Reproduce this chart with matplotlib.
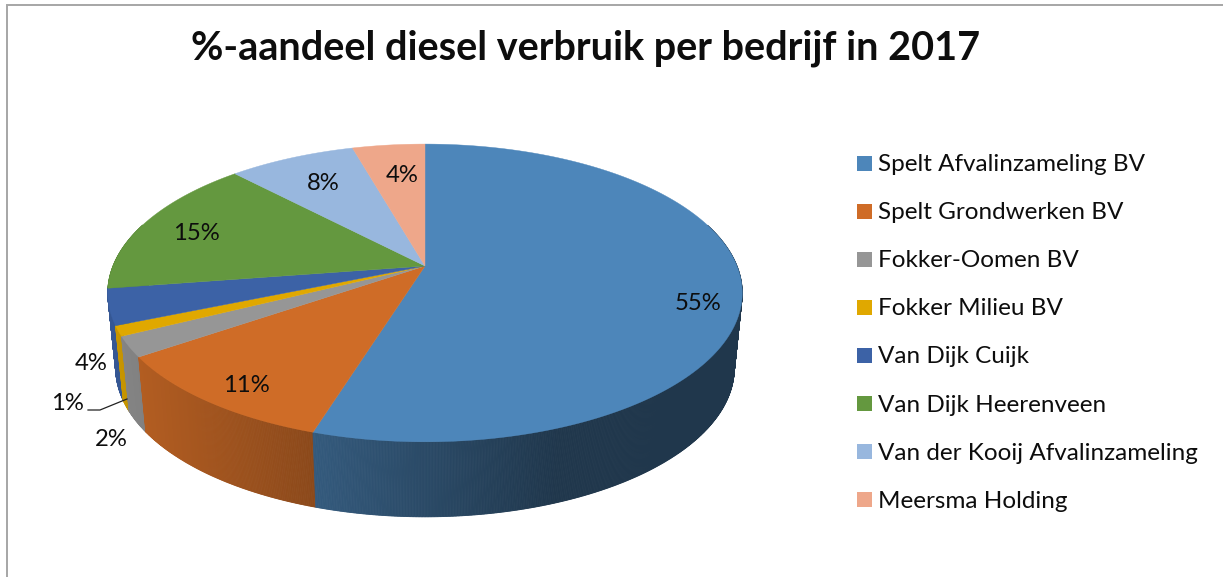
import numpy as np
import matplotlib
matplotlib.use("Agg")
import matplotlib.pyplot as plt
from matplotlib.patches import Polygon, Rectangle

title = "%-aandeel diesel verbruik per bedrijf in 2017"
companies = ["Spelt Afvalinzameling BV", "Spelt Grondwerken BV", "Fokker-Oomen BV", "Fokker Milieu BV",
             "Van Dijk Cuijk", "Van Dijk Heerenveen", "Van der Kooij Afvalinzameling", "Meersma Holding"]
shares = [54.8, 10.6, 2.2, 1.1, 3.9, 15.3, 7.7, 4.4]
colors = ["#4d86ba", "#cf6c27", "#969696", "#e0a800", "#3c62a6", "#64983f", "#98b7de", "#eea78a"]

# layout (pixels)
CX, CY, A, B, K = 425.0, 266.0, 312.0, 144.0, 0.181
DEPTH, SHRINK = 75.0, 0.975
label_pos = [(698, 304), (246, 386), (111, 440), (67, 403), (91, 363), (196, 233), (323, 183), (402, 175)]
FONT = "Lato"

def project(t):
    u, v = np.sin(t), np.cos(t)
    w = 1 + K * v
    return CX + A * u / w, CY - B * v / w

def shade(x):
    return np.clip(0.86 - (x - 140) * 0.00108, 0.41, 0.9)

fig = plt.figure(figsize=(12.23, 5.77), dpi=100)
ax = fig.add_axes([0, 0, 1, 1])
ax.set_xlim(0, 1223)
ax.set_ylim(577, 0)
ax.axis("off")

ax.plot([6.5, 6.5, 1223], [577, 4.5, 4.5], color="#a6a6a6", lw=1.4, solid_capstyle="butt", solid_joinstyle="miter")

edges = np.cumsum([0] + shares) / sum(shares) * 2 * np.pi
rgb = [np.array(matplotlib.colors.to_rgb(c)) for c in colors]

# side wall, painted from the back to the front
quads = []
for i in range(len(shares)):
    ts = np.arange(edges[i], edges[i + 1], 0.004)
    ts = np.append(ts, edges[i + 1])
    for t0, t1 in zip(ts[:-1], ts[1:]):
        if np.cos((t0 + t1) / 2) > 0.3:
            continue
        x0, y0 = project(t0)
        x1, y1 = project(t1)
        quad = [(x0, y0), (x1, y1),
                (CX + (x1 - CX) * SHRINK, y1 + DEPTH),
                (CX + (x0 - CX) * SHRINK, y0 + DEPTH)]
        quads.append(((y0 + y1) / 2, quad, rgb[i] * shade((x0 + x1) / 2)))
quads.sort(key=lambda q: q[0])
for n, (_, quad, col) in enumerate(quads):
    ax.add_patch(Polygon(quad, closed=True, fc=col, ec=col, lw=0.6, zorder=2))

# top face
for i in range(len(shares)):
    ts = np.linspace(edges[i], edges[i + 1], 200)
    xs, ys = project(ts)
    pts = np.column_stack([np.r_[CX, xs], np.r_[CY, ys]])
    ax.add_patch(Polygon(pts, closed=True, fc=colors[i], ec=colors[i], lw=0.3, zorder=3))

# data labels
for v, (x, y) in zip(shares, label_pos):
    ax.text(x, y, f"{round(v)}%", ha="center", va="center", fontsize=17.2, family=FONT, color="#0d0d0d", zorder=5)
ax.plot([88, 100, 127], [410, 410, 399], color="#222222", lw=0.9, zorder=4)

# legend
for i, name in enumerate(companies):
    yc = 163 + i * 48.1
    ax.add_patch(Rectangle((857, yc - 7.5), 15, 15, fc=colors[i], ec="none", zorder=3))
    ax.text(878, yc + 1.5, name, ha="left", va="center", fontsize=17.5, family=FONT, color="#0d0d0d", zorder=5)

ax.text(586, 48, title, ha="center", va="center", fontsize=28.5, fontweight="bold", family=FONT, color="#0d0d0d")

fig.savefig("out.png", dpi=100)
